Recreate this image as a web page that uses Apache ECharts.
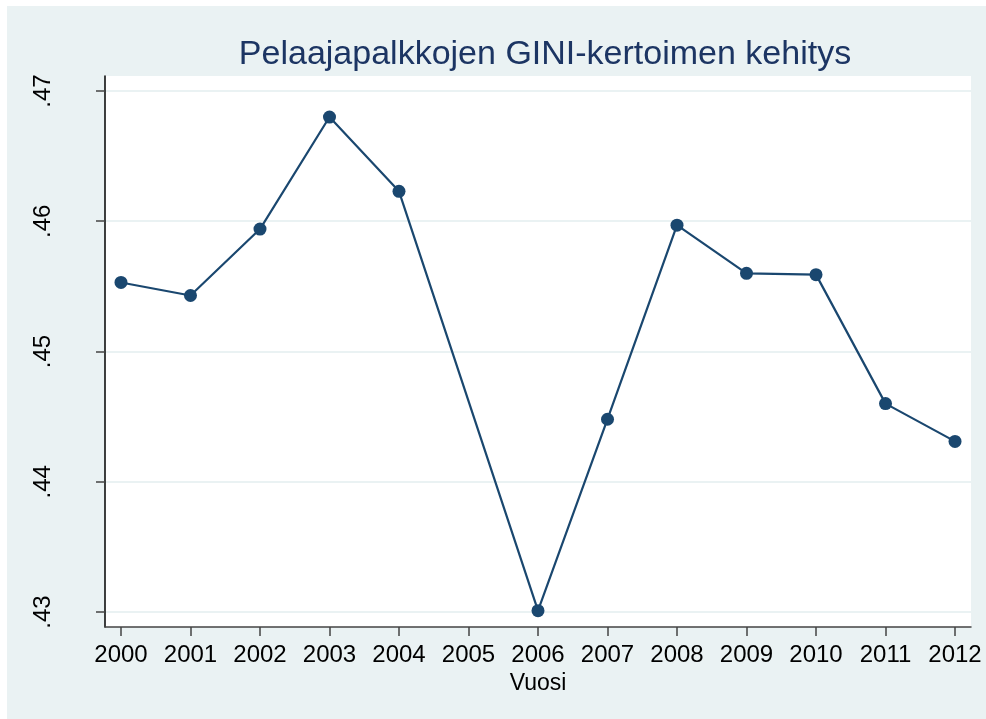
<!DOCTYPE html>
<html>
<head>
<meta charset="utf-8">
<script src="https://cdn.jsdelivr.net/npm/echarts@6/dist/echarts.min.js"></script>
<style>
  html, body { margin: 0; padding: 0; background: #ffffff; }
  #frame { position: absolute; left: 7px; top: 6px; width: 979px; height: 713px; background: #eaf2f3; }
  #chart { position: absolute; left: 0; top: 0; width: 986px; height: 719px; }
</style>
</head>
<body>
<div id="frame"></div>
<div id="chart"></div>
<script>
// Vuodet ja GINI-kerroin (2005 puuttuu)
const years = [2000, 2001, 2002, 2003, 2004, 2005, 2006, 2007, 2008, 2009, 2010, 2011, 2012];
const gini = [0.4553, 0.4543, 0.4594, 0.4680, 0.4623, null, 0.4301, 0.4448, 0.4597, 0.4560, 0.4559, 0.4460, 0.4431];
const yTicks = [0.43, 0.44, 0.45, 0.46, 0.47];

const chart = echarts.init(document.getElementById('chart'));

chart.setOption({
  backgroundColor: 'transparent',
  title: {
    text: 'Pelaajapalkkojen GINI-kertoimen kehitys',
    left: 540,
    top: 33,
    textAlign: 'center',
    textStyle: {
      color: '#1c3563',
      fontFamily: 'Liberation Sans, Arial, sans-serif',
      fontSize: 34,
      fontWeight: 'normal'
    }
  },
  grid: {
    left: 105,
    right: 15,
    top: 76,
    bottom: 92,
    show: true,
    backgroundColor: '#ffffff',
    borderWidth: 0
  },
  xAxis: {
    type: 'value',
    min: 1999.77,
    max: 2012.23,
    name: 'Vuosi',
    nameLocation: 'middle',
    nameGap: 41,
    nameTextStyle: { color: '#000', fontSize: 23, fontFamily: 'Liberation Sans, Arial, sans-serif' },
    axisLine: { show: true, lineStyle: { color: '#444', width: 1.5 } },
    axisTick: { show: true, length: 9, customValues: years, lineStyle: { color: '#444', width: 1.5 } },
    axisLabel: {
      customValues: years,
      margin: 16,
      color: '#000',
      fontSize: 24,
      fontFamily: 'Liberation Sans, Arial, sans-serif',
      formatter: v => String(v)
    },
    splitLine: { show: false }
  },
  yAxis: {
    type: 'value',
    min: 0.42885,
    max: 0.47115,
    axisLine: { show: true, lineStyle: { color: '#000', width: 1.5 } },
    axisTick: { show: true, length: 9, customValues: yTicks, lineStyle: { color: '#444', width: 1.5 } },
    axisLabel: {
      customValues: yTicks,
      rotate: 90,
      margin: 50,
      color: '#000',
      fontSize: 24,
      fontFamily: 'Liberation Sans, Arial, sans-serif',
      formatter: v => v.toFixed(2).replace(/^0/, '')
    },
    splitLine: { show: true, lineStyle: { color: '#eaf2f3', width: 2 } }
  },
  series: [{
    type: 'line',
    data: years.map((y, i) => [y, gini[i]]),
    connectNulls: true,
    symbol: 'circle',
    symbolSize: 13,
    showAllSymbol: true,
    lineStyle: { color: '#1a476f', width: 2.2 },
    itemStyle: { color: '#1a476f' },
    animation: false
  }]
});
</script>
</body>
</html>
